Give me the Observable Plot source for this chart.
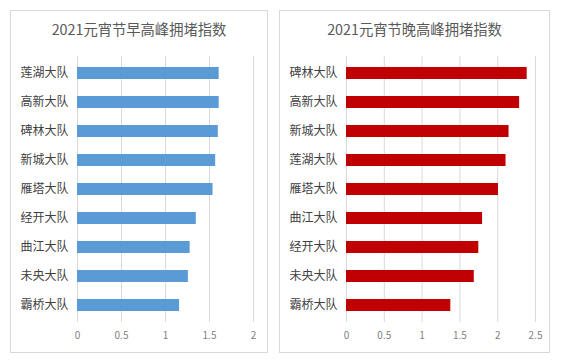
<!DOCTYPE html>
<html>
<head>
<meta charset="utf-8">
<script src="https://cdn.jsdelivr.net/npm/d3@7"></script>
<script src="https://cdn.jsdelivr.net/npm/@observablehq/plot@0.6"></script>
<style>
  html, body { margin: 0; padding: 0; background: #fff; }
  #root { position: relative; width: 561px; height: 363px; background: #fff; overflow: hidden;
          font-family: "Noto Sans CJK SC", "Noto Sans", sans-serif; }
  .panel { position: absolute; box-sizing: border-box; border: 1px solid #d9d9d9; background: #fff; }
  .title { position: absolute; text-align: center; color: #595959; font-size: 14.3px; line-height: 20px; white-space: nowrap; }
  .chart { position: absolute; top: 0; }
</style>
</head>
<body>
<div id="root">
  <div class="panel" style="left:10px;top:10px;width:258px;height:343px;"></div>
  <div class="panel" style="left:279px;top:10px;width:271px;height:343px;"></div>
  <div class="title" id="t1" style="left:10px;width:258px;top:19px;"></div>
  <div class="title" id="t2" style="left:279px;width:271px;top:19px;"></div>
  <div class="chart" id="c1" style="left:0px;"></div>
  <div class="chart" id="c2" style="left:280px;"></div>
</div>
<script>
const morningTitle = "2021元宵节早高峰拥堵指数";
const eveningTitle = "2021元宵节晚高峰拥堵指数";
const morningTeams = ["莲湖大队","高新大队","碑林大队","新城大队","雁塔大队","经开大队","曲江大队","未央大队","霸桥大队"];
const morningValues = [1.61,1.61,1.60,1.57,1.54,1.35,1.28,1.26,1.16];
const morningTicks = [0,0.5,1,1.5,2];
const eveningTeams = ["碑林大队","高新大队","新城大队","莲湖大队","雁塔大队","曲江大队","经开大队","未央大队","霸桥大队"];
const eveningValues = [2.39,2.29,2.15,2.11,2.01,1.80,1.75,1.69,1.38];
const eveningTicks = [0,0.5,1,1.5,2,2.5];

function makeChart(teams, values, ticks, color, width, mLeft, mRight) {
  const data = teams.map((t, i) => ({team: t, value: values[i]}));
  return Plot.plot({
    width, height: 363,
    marginLeft: mLeft, marginRight: mRight, marginTop: 56, marginBottom: 41,
    style: {fontFamily: '"Noto Sans CJK SC", "Noto Sans", sans-serif', background: "transparent"},
    x: {domain: [ticks[0], ticks[ticks.length - 1]], ticks, tickFormat: d => String(d)},
    y: {domain: teams, paddingInner: 0.6, paddingOuter: 0.3},
    marks: [
      Plot.gridX(ticks, {stroke: "#d9d9d9", strokeOpacity: 1, strokeWidth: 1}),
      Plot.barX(data, {x: "value", y: "team", fill: color}),
      Plot.axisX(ticks, {tickSize: 0, tickPadding: 9, fontSize: 10, fill: "#7f7f7f", tickFormat: d => String(d), label: null}),
      Plot.axisY(teams, {tickSize: 0, tickPadding: 9, fontSize: 12, fill: "#404040", label: null})
    ]
  });
}

document.getElementById("t1").textContent = morningTitle;
document.getElementById("t2").textContent = eveningTitle;
document.getElementById("c1").appendChild(makeChart(morningTeams, morningValues, morningTicks, "#5b9bd5", 280, 77, 27));
document.getElementById("c2").appendChild(makeChart(eveningTeams, eveningValues, eveningTicks, "#c00000", 281, 66, 26));
</script>
</body>
</html>
